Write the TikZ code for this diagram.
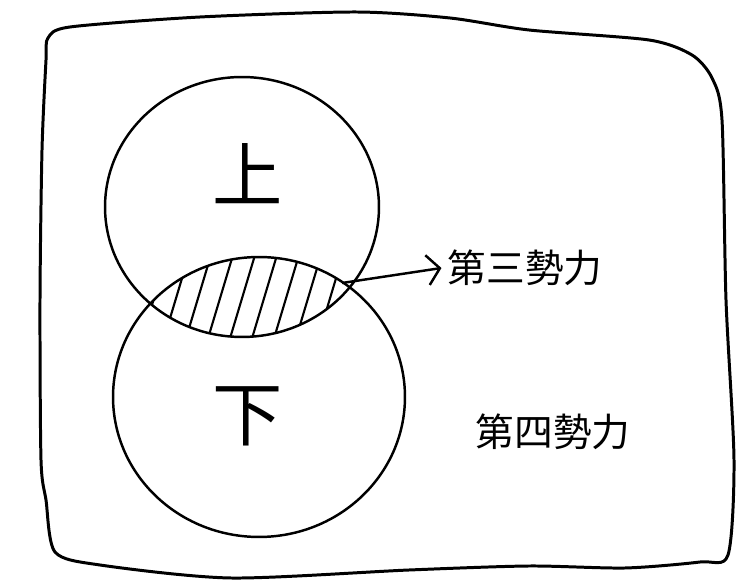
\documentclass[tikz,border=0pt]{standalone}
\usepackage{fontspec}
\newfontfamily\jpfont{Noto Sans CJK JP}
\usetikzlibrary{arrows.meta}
\tikzstyle{frame} = [line width=1.7pt, line join=round]
\tikzstyle{set} = [line width=1.4pt]
\tikzstyle{hatch} = [line width=1.2pt, line cap=round]
\tikzstyle{glyph} = [font=\jpfont\fontsize{40}{44}\selectfont]
\tikzstyle{label} = [font=\jpfont\fontsize{22}{26}\selectfont]
\tikzstyle{pointer} = [line width=1.4pt,-{Straight Barb[length=2.5mm,width=6mm]}]
\begin{document}
\begin{tikzpicture}[x=0.02cm, y=-0.02cm]
          \useasboundingbox (0,0) rectangle (751,580);
          %% Outer frame
          \draw [frame] plot [smooth cycle, tension=0.45] coordinates {
            (48,38) (70,27) (200,17) (356,12) (450,18) (529,30) (649,40) (692,55)
            (712,78) (722,120) (726,300) (734,460) (728,555) (700,562) (625,568)
            (529,566) (409,570) (231,578) (100,565) (55,552) (46,500) (41,460)
            (40,300) (42,150) (46,60)}; %

          %% Sets
          \draw [set] (242,207) ellipse [x radius=2.74cm, y radius=2.6cm]; %
          \draw [set] (259,397) ellipse [x radius=2.92cm, y radius=2.8cm]; %

          %% Hatched overlap
          \begin{scope}
            \clip (242,207) ellipse [x radius=2.74cm, y radius=2.6cm]; %
            \clip (259,397) ellipse [x radius=2.92cm, y radius=2.8cm]; %
            \foreach \x in {140,162,...,360}
              \draw [hatch] (\x,345) -- ++(30,-100); %
          \end{scope}

          \node (upper) [glyph] at (248,174) {上}; %
          \node (lower) [glyph] at (248,416) {下}; %
          \node (third) [label] at (525,268) {第三勢力}; %
          \node (fourth) [label] at (553,432) {第四勢力}; %
          \coordinate (lens) at (342,283); %

          %% Connection
          \draw [pointer] (lens) -- (third.west); %
        \end{tikzpicture}
\end{document}
